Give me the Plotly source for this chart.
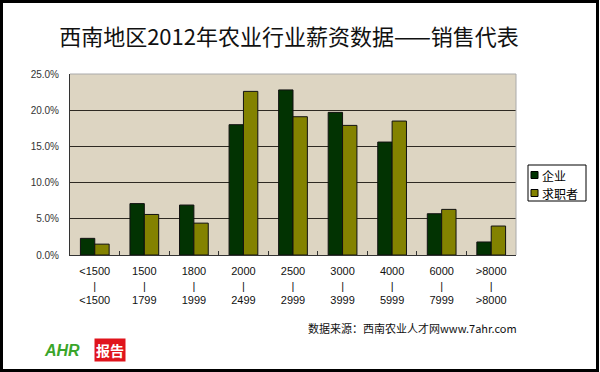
import plotly.graph_objects as go

categories = ["<1500<br>|<br><1500", "1500<br>|<br>1799", "1800<br>|<br>1999",
              "2000<br>|<br>2499", "2500<br>|<br>2999", "3000<br>|<br>3999",
              "4000<br>|<br>5999", "6000<br>|<br>7999", ">8000<br>|<br>>8000"]
series_names = ["企业", "求职者"]
enterprise = [2.3, 7.1, 6.9, 18.0, 22.8, 19.7, 15.6, 5.7, 1.8]
jobseekers = [1.5, 5.6, 4.4, 22.6, 19.1, 17.9, 18.5, 6.3, 4.0]
y_ticks = [0, 5, 10, 15, 20, 25]
y_tick_labels = ["0.0%", "5.0%", "10.0%", "15.0%", "20.0%", "25.0%"]
colors = ["#023302", "#838200"]

CJK = "Noto Sans CJK SC"

fig = go.Figure()
for name, vals, col in zip(series_names, [enterprise, jobseekers], colors):
    fig.add_trace(go.Bar(name=name, x=categories, y=vals, showlegend=False,
                         marker=dict(color=col, line=dict(color="#111111", width=1))))

L, R, T, B = 70, 84, 74, 117
W, H = 600, 372
pw, ph = W - L - R, H - T - B

def px(x):
    return (x - L) / pw

def py(y):
    return (H - B - y) / ph

shapes = [
    dict(type="rect", xref="paper", yref="paper",
         x0=px(1.5), x1=px(597.5), y0=py(1.5), y1=py(370.5),
         line=dict(color="black", width=3), fillcolor="rgba(0,0,0,0)", layer="above"),
    dict(type="line", xref="paper", yref="paper", x0=0, x1=1, y0=1, y1=1,
         line=dict(color="#aaaaaa", width=1)),
    dict(type="line", xref="paper", yref="paper", x0=1, x1=1, y0=0, y1=1,
         line=dict(color="#aaaaaa", width=1)),
    # legend box
    dict(type="rect", xref="paper", yref="paper",
         x0=px(528), x1=px(586), y0=py(165), y1=py(201),
         line=dict(color="black", width=1), fillcolor="white"),
]
annotations = [
    dict(text="数据来源：西南农业人才网www.7ahr.com", xref="paper", yref="paper",
         x=px(306), y=py(328), xanchor="left", yanchor="middle", showarrow=False,
         font=dict(size=11, color="#111111", family=CJK)),
    dict(text="<i><b>AHR</b></i>", xref="paper", yref="paper",
         x=px(42), y=py(350), xanchor="left", yanchor="middle", showarrow=False,
         font=dict(size=16, color="#3aa52a", family="Liberation Sans")),
    dict(text="<b>报告</b>", xref="paper", yref="paper",
         x=px(94), y=py(350), xanchor="left", yanchor="middle", showarrow=False,
         bgcolor="#e0141c", borderpad=1,
         font=dict(size=14, color="white", family=CJK)),
]
for i, (name, col) in enumerate(zip(series_names, colors)):
    yc = 175 + 18 * i
    shapes.append(dict(type="rect", xref="paper", yref="paper",
                       x0=px(531), x1=px(538), y0=py(yc - 3.5), y1=py(yc + 3.5),
                       line=dict(color="black", width=1), fillcolor=col))
    annotations.append(dict(text=name, xref="paper", yref="paper",
                            x=px(541), y=py(yc), xanchor="left", yanchor="middle",
                            showarrow=False, borderpad=0,
                            font=dict(size=12, color="black", family=CJK)))

fig.update_layout(
    width=W, height=H,
    margin=dict(l=L, r=R, t=T, b=B, autoexpand=False),
    paper_bgcolor="white",
    plot_bgcolor="#ddd5c2",
    barmode="group", bargap=0.42, bargroupgap=0,
    font=dict(family=CJK, color="#222222", size=10),
    title=dict(text="西南地区2012年农业行业薪资数据——销售代表",
               x=px(289), xref="paper", xanchor="center",
               y=1 - 37 / H, yanchor="middle",
               font=dict(size=22, color="#111111", family=CJK)),
    showlegend=False,
    xaxis=dict(showline=True, linecolor="#333333", linewidth=1,
               ticks="inside", ticklen=4, tickcolor="#333333",
               tickson="boundaries", automargin=False, ticklabelstandoff=6,
               tickfont=dict(size=11, color="#111111", family="Liberation Sans"),
               showgrid=False, mirror=False),
    yaxis=dict(range=[0, 25], tickvals=y_ticks, ticktext=y_tick_labels,
               showgrid=True, gridcolor="#2e2a22", gridwidth=1,
               showline=True, linecolor="#333333", linewidth=1,
               ticks="", ticklabelstandoff=8, automargin=False,
               tickfont=dict(size=10, color="#333333", family="Liberation Sans"),
               zeroline=False),
    shapes=shapes,
    annotations=annotations,
)

fig.write_html("out.html", config={"displayModeBar": False},
               post_script="document.body.style.margin='0';document.body.style.overflow='hidden';")
